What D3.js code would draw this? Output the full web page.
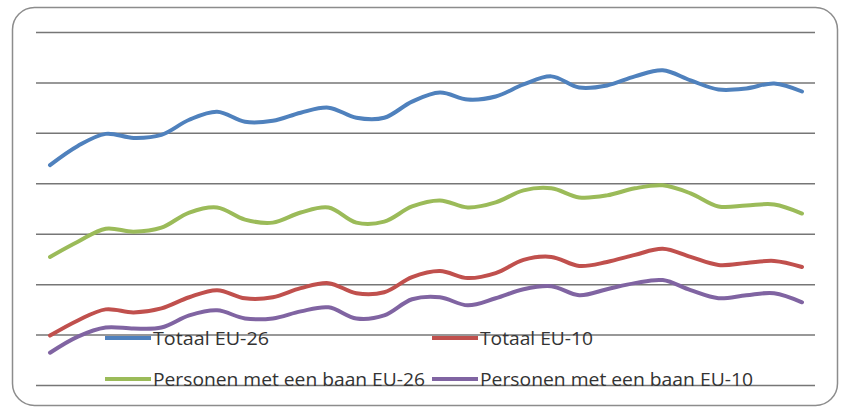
<!DOCTYPE html>
<html>
<head>
<meta charset="utf-8">
<script src="https://cdn.jsdelivr.net/npm/d3@7"></script>
<style>
  body { margin: 0; background: #fff; }
  svg { display: block; }
</style>
</head>
<body>
<div id="chart"></div>
<script>
// quarters (not shown on the chart, only used for the x positions)
const periods = [
  'K1-04', 'K2-04', 'K3-04', 'K4-04', 'K1-05', 'K2-05', 'K3-05', 'K4-05',
  'K1-06', 'K2-06', 'K3-06', 'K4-06', 'K1-07', 'K2-07', 'K3-07', 'K4-07',
  'K1-08', 'K2-08', 'K3-08', 'K4-08', 'K1-09', 'K2-09', 'K3-09', 'K4-09',
  'K1-10', 'K2-10', 'K3-10', 'K4-10'
];

const totaalEU26 = [218, 237, 249, 245, 248, 263, 271, 261, 262, 270, 275, 265, 265, 281,
  290, 283, 286, 298, 306, 295, 297, 306, 312, 302, 293, 294, 299, 291];
const totaalEU10 = [49, 64, 75, 72, 76, 87, 94, 86, 87, 96, 101, 91, 92, 107,
  113, 106, 111, 124, 127, 118, 122, 129, 135, 127, 119, 121, 123, 117];
const baanEU26 = [127, 142, 155, 152, 156, 171, 176, 164, 161, 171, 176, 161, 162, 177,
  183, 176, 181, 193, 195, 186, 188, 195, 198, 190, 177, 178, 179, 170];
const baanEU10 = [32, 48, 57, 56, 57, 69, 74, 66, 66, 73, 77, 66, 69, 85,
  87, 79, 86, 95, 98, 89, 95, 101, 104, 94, 86, 89, 91, 82];

const yTicks = [0, 50, 100, 150, 200, 250, 300, 350];

const seriesNames = ['Totaal EU-26', 'Totaal EU-10', 'Personen met een baan EU-26', 'Personen met een baan EU-10'];
const seriesData = [totaalEU26, totaalEU10, baanEU26, baanEU10];
const seriesColors = ['#4f81bd', '#c0504d', '#9bbb59', '#8064a2'];

const width = 843, height = 409;

const svg = d3.select('#chart').append('svg')
  .attr('width', width)
  .attr('height', height);

// outer frame
svg.append('rect')
  .attr('x', 12.5)
  .attr('y', 7.5)
  .attr('width', 825)
  .attr('height', 398)
  .attr('rx', 22)
  .attr('fill', '#fff')
  .attr('stroke', '#8c8c8c')
  .attr('stroke-width', 1.5);

var x = d3.scalePoint().domain(periods).range([50, 802]);
var y = d3.scaleLinear().domain([0, 350]).range([385, 32]);

// gridlines
var grid = svg.append('g')
  .attr('class', 'grid')
  .attr('transform', 'translate(36,0)')
  .call(d3.axisLeft(y).tickValues(yTicks).tickSize(-779).tickFormat(''));
grid.select('.domain').remove();
grid.selectAll('.tick line')
  .attr('stroke', '#767676')
  .attr('stroke-width', 1.5);

var valueLine = d3.line()
  .x(function(d, i) { return x(periods[i]); })
  .y(function(d) { return y(d); })
  .curve(d3.curveCatmullRom.alpha(0.5));

seriesData.forEach(function(s, k) {
  svg.append('path')
    .attr('d', valueLine(s))
    .attr('fill', 'none')
    .attr('stroke', seriesColors[k])
    .attr('stroke-width', 4)
    .attr('stroke-linejoin', 'round')
    .attr('stroke-linecap', 'round');
});

// legend (2 x 2, drawn over the plot)
var legend = svg.append('g').attr('class', 'legend');
var legendPos = [[105, 338], [432, 338], [105, 379], [432, 379]];
var textWidths = [116, 113, 272, 273];

seriesNames.forEach(function(name, k) {
  var p = legendPos[k];
  legend.append('line')
    .attr('x1', p[0]).attr('x2', p[0] + 46)
    .attr('y1', p[1]).attr('y2', p[1])
    .attr('stroke', seriesColors[k])
    .attr('stroke-width', 4);
  legend.append('text')
    .attr('x', p[0] + 48)
    .attr('y', p[1] + 7)
    .attr('textLength', textWidths[k])
    .attr('lengthAdjust', 'spacingAndGlyphs')
    .style('font-family', "'Open Sans', sans-serif")
    .style('font-size', '18px')
    .style('fill', '#333')
    .text(name);
});
</script>
</body>
</html>
